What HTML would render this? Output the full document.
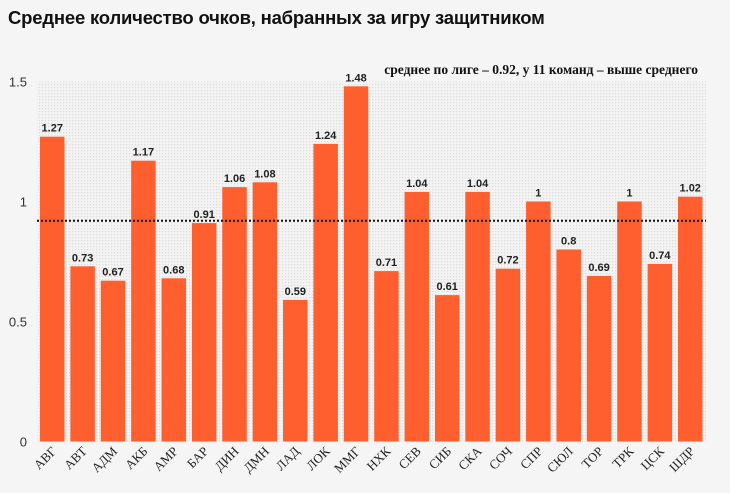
<!DOCTYPE html>
<html><head><meta charset="utf-8"><style>
html,body{margin:0;padding:0;background:#f5f5f5;}
body{width:730px;height:493px;overflow:hidden;position:relative;font-family:"Liberation Sans",sans-serif;}
#title{position:absolute;left:8px;top:7px;font-size:18.5px;font-weight:bold;color:#111;letter-spacing:-0.2px;}
</style></head><body>
<div id="title">Среднее количество очков, набранных за игру защитником</div>
<svg id="chart" width="730" height="493" style="position:absolute;left:0;top:0">
<defs><pattern id="dots" width="3" height="3" patternUnits="userSpaceOnUse"><rect width="3" height="3" fill="#f3f3f3"/><rect width="1.2" height="1.2" fill="#dcdcdc"/></pattern></defs>
</svg>
<script>
const categories=["АВГ","АВТ","АДМ","АКБ","АМР","БАР","ДИН","ДМН","ЛАД","ЛОК","ММГ","НХК","СЕВ","СИБ","СКА","СОЧ","СПР","СЮЛ","ТОР","ТРК","ЦСК","ШДР"];
const values=[1.27,0.73,0.67,1.17,0.68,0.91,1.06,1.08,0.59,1.24,1.48,0.71,1.04,0.61,1.04,0.72,1,0.8,0.69,1,0.74,1.02];
const valueLabels=["1.27","0.73","0.67","1.17","0.68","0.91","1.06","1.08","0.59","1.24","1.48","0.71","1.04","0.61","1.04","0.72","1","0.8","0.69","1","0.74","1.02"];
const yTicks=[0,0.5,1,1.5];
const yTickLabels=["0","0.5","1","1.5"];
const average=0.92;
const NS="http://www.w3.org/2000/svg";
const svg=document.getElementById('chart');
const y=v=>441.5-v*240;
const x=i=>40+i*30.38;
const bw=24.5;
function mk(t,a){const e=document.createElementNS(NS,t);for(const k in a)e.setAttribute(k,a[k]);svg.appendChild(e);return e;}
const bg=mk('rect',{x:37,y:y(1.5),width:669,height:y(0)-y(1.5),fill:'url(#dots)'});


yTicks.forEach((t,i)=>{const e=mk('text',{x:27,y:y(t)+5,'text-anchor':'end','font-size':'13','fill':'#333','font-family':'Liberation Sans, sans-serif'});e.textContent=yTickLabels[i];

});
values.forEach((v,i)=>{
const r=mk('rect',{x:x(i),y:y(v),width:bw,height:y(0)-y(v),fill:'#ff5f2e'});


const t=mk('text',{x:x(i)+bw/2,y:y(v)-5,'text-anchor':'middle','font-size':'11','font-weight':'bold','fill':'#222','font-family':'Liberation Sans, sans-serif'});t.textContent=valueLabels[i];


const cx=x(i)+bw/2+5,cy=452;
const c=mk('text',{x:cx,y:cy,'text-anchor':'end','font-size':'13','fill':'#222','font-family':'Liberation Serif, serif',transform:`rotate(-45 ${cx} ${cy})`});c.textContent=categories[i];


});
const l=mk('line',{x1:37,x2:706,y1:y(average),y2:y(average),stroke:'#111','stroke-width':'2','stroke-dasharray':'2 2'});


const a=mk('text',{x:698,y:74,'text-anchor':'end','font-size':'13.5','font-weight':'bold','fill':'#111','font-family':'Liberation Serif, serif'});
a.textContent='среднее по лиге – 0.92, у 11 команд – выше среднего';


</script>
</body></html>
